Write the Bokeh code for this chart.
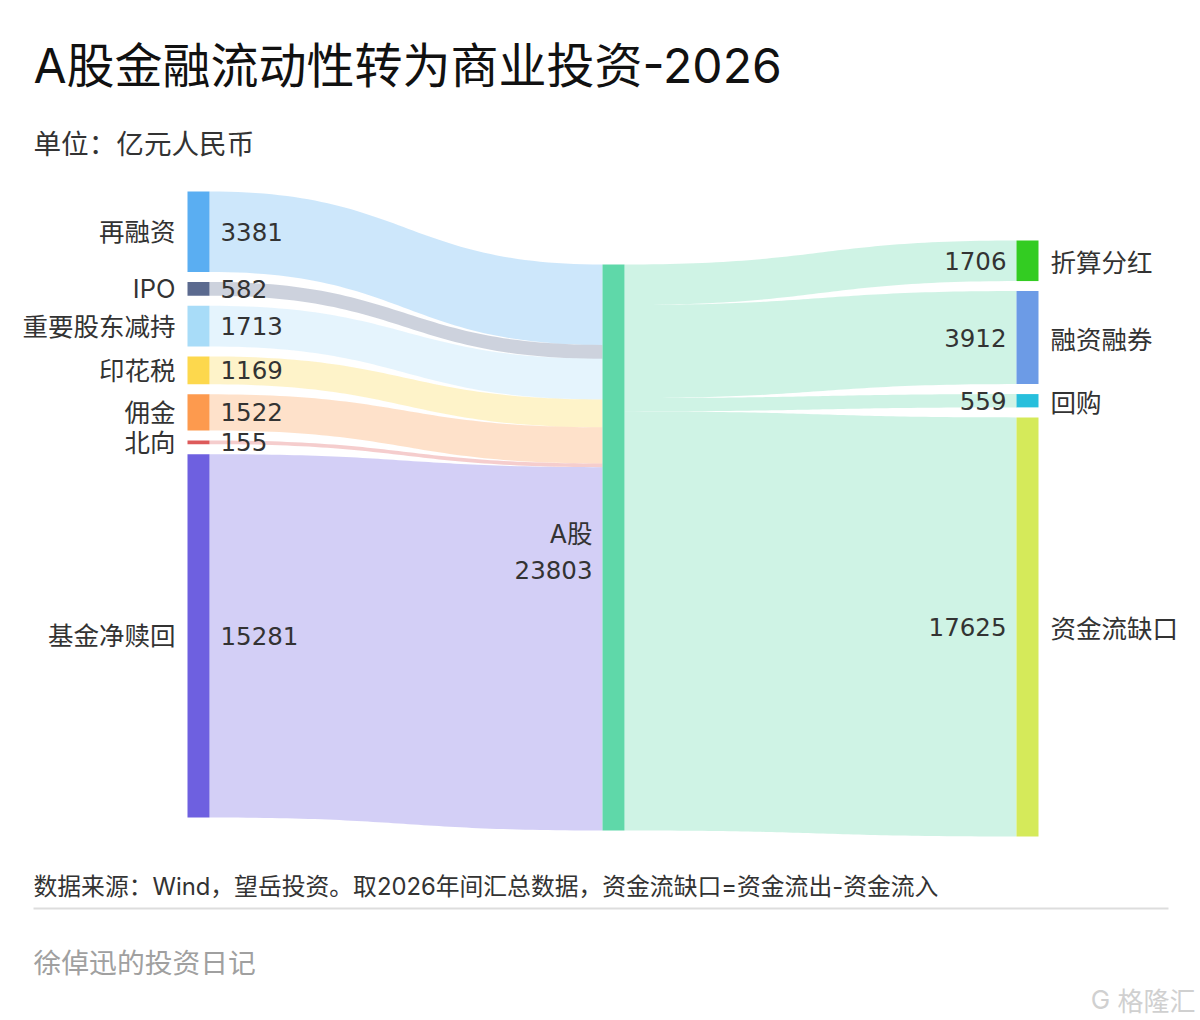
import numpy as np
from bokeh.plotting import figure
from bokeh.models import Range1d, ColumnDataSource
from bokeh.core.properties import value
from bokeh.embed import file_html
from bokeh.resources import INLINE

# ---------------- data ----------------
sources = ["再融资", "IPO", "重要股东减持", "印花税", "佣金", "北向", "基金净赎回"]
source_values = [3381, 582, 1713, 1169, 1522, 155, 15281]
source_colors = ["#5aaef2", "#5b6a8f", "#a8dcf8", "#fdd84d", "#fd9a4e", "#dd5a5a", "#6e60e0"]

center_name = "A股"
center_value = 23803
center_color = "#5fd8a9"

targets = ["折算分红", "融资融券", "回购", "资金流缺口"]
target_values = [1706, 3912, 559, 17625]
target_colors = ["#33cc22", "#6c9be6", "#27bfdc", "#d5ea5a"]

title_text = "A股金融流动性转为商业投资-2026"
subtitle_text = "单位：亿元人民币"
footer_text = "数据来源：Wind，望岳投资。取2026年间汇总数据，资金流缺口=资金流出-资金流入"
author_text = "徐倬迅的投资日记"
watermark_text = "格隆汇"

# ---------------- layout ----------------
FONT = value("Noto Sans CJK SC")
FONT_MIX = value("Inter, 'Noto Sans CJK SC'")
FONT_NUM = value("DejaVu Sans")
W, H = 1200, 1020
NODE_W = 22
X_LEFT, X_CENTER, X_RIGHT = 187, 602, 1016
TOP_LEFT, TOP_CENTER, TOP_RIGHT = 191, 264, 240
GAP = 10
CENTER_H = 566
k = CENTER_H / center_value


def stack(vals, top):
    tops, bots = [], []
    y = top
    for v in vals:
        tops.append(y)
        y += v * k
        bots.append(y)
        y += GAP
    return tops, bots


l_top, l_bot = stack(source_values, TOP_LEFT)
r_top, r_bot = stack(target_values, TOP_RIGHT)
c_top, c_bot = TOP_CENTER, TOP_CENTER + center_value * k

p = figure(width=W, height=H, x_range=Range1d(0, W), y_range=Range1d(H, 0),
           output_backend="svg", toolbar_location=None, min_border=0,
           outline_line_color=None, background_fill_color="white",
           border_fill_color="white")
p.axis.visible = False
p.grid.visible = False


def bezier(x0, y0, x1, y1, n=60):
    t = np.linspace(0, 1, n)
    xm = (x0 + x1) / 2
    bx = (1 - t) ** 3 * x0 + 3 * (1 - t) ** 2 * t * xm + 3 * (1 - t) * t ** 2 * xm + t ** 3 * x1
    by = (1 - t) ** 3 * y0 + 3 * (1 - t) ** 2 * t * y0 + 3 * (1 - t) * t ** 2 * y1 + t ** 3 * y1
    return bx, by


def link(xs, s0, s1, xt, t0, t1):
    tx, ty = bezier(xs, s0, xt, t0)
    bx, by = bezier(xs, s1, xt, t1)
    return list(np.concatenate([tx, bx[::-1]])), list(np.concatenate([ty, by[::-1]]))


# links left -> center
lx, ly, lc = [], [], []
cy = c_top
for v, t0, b0, col in zip(source_values, l_top, l_bot, source_colors):
    h = v * k
    xs_, ys_ = link(X_LEFT + NODE_W, t0, b0, X_CENTER, cy, cy + h)
    lx.append(xs_); ly.append(ys_); lc.append(col)
    cy += h
p.patches(xs=lx, ys=ly, fill_color=lc, fill_alpha=0.3, line_color=None)

# links center -> right
rx, ry = [], []
cy = c_top
for v, t0, b0 in zip(target_values, r_top, r_bot):
    h = v * k
    xs_, ys_ = link(X_CENTER + NODE_W, cy, cy + h, X_RIGHT, t0, t0 + h)
    rx.append(xs_); ry.append(ys_)
    cy += h
p.patches(xs=rx, ys=ry, fill_color=center_color, fill_alpha=0.3, line_color=None)

# nodes
p.quad(left=[X_LEFT] * len(sources), right=[X_LEFT + NODE_W] * len(sources),
       top=l_top, bottom=l_bot, fill_color=source_colors, line_color=None)
p.quad(left=[X_CENTER], right=[X_CENTER + NODE_W], top=[c_top], bottom=[c_bot],
       fill_color=center_color, line_color=None)
p.quad(left=[X_RIGHT] * len(targets), right=[X_RIGHT + NODE_W] * len(targets),
       top=r_top, bottom=r_bot, fill_color=target_colors, line_color=None)

TXT = "#333333"
LBL = "25.5px"
NUM = "24.5px"
l_mid = [(a + b) / 2 for a, b in zip(l_top, l_bot)]
r_mid = [(a + b) / 2 for a, b in zip(r_top, r_bot)]

src_l = ColumnDataSource(dict(y=l_mid, name=sources, val=[str(v) for v in source_values]))
p.text(x=X_LEFT - 12, y="y", text="name", source=src_l, text_font=FONT_MIX, text_font_size=LBL,
       text_align="right", text_baseline="middle", text_color=TXT)
p.text(x=X_LEFT + NODE_W + 11, y="y", text="val", source=src_l, text_font=FONT_NUM, text_font_size=NUM,
       text_align="left", text_baseline="middle", text_color=TXT)

src_r = ColumnDataSource(dict(y=r_mid, name=targets, val=[str(v) for v in target_values]))
p.text(x=X_RIGHT - 10, y="y", text="val", source=src_r, text_font=FONT_NUM, text_font_size=NUM,
       text_align="right", text_baseline="middle", text_color=TXT)
p.text(x=X_RIGHT + NODE_W + 12, y="y", text="name", source=src_r, text_font=FONT, text_font_size=LBL,
       text_align="left", text_baseline="middle", text_color=TXT)

c_mid = (c_top + c_bot) / 2
p.text(x=[X_CENTER - 10], y=[c_mid - 14], text=[center_name], text_font=FONT_MIX,
       text_font_size=LBL, text_align="right", text_baseline="middle", text_color=TXT)
p.text(x=[X_CENTER - 10], y=[c_mid + 22], text=[str(center_value)], text_font=FONT_NUM,
       text_font_size=NUM, text_align="right", text_baseline="middle", text_color=TXT)

# titles and footer
p.text(x=[33], y=[65], text=[title_text], text_font=FONT_MIX, text_font_size="48px",
       text_align="left", text_baseline="middle", text_color="#111111")
p.text(x=[33], y=[141], text=[subtitle_text], text_font=FONT, text_font_size="27.6px",
       text_align="left", text_baseline="middle", text_color=TXT)
p.text(x=[33], y=[886], text=[footer_text], text_font=FONT_MIX, text_font_size="23.8px",
       text_align="left", text_baseline="middle", text_color=TXT)
p.segment(x0=[33], y0=[908], x1=[1168], y1=[908], line_color="#dddddd", line_width=2)
p.text(x=[33], y=[960], text=[author_text], text_font=FONT, text_font_size="27.8px",
       text_align="left", text_baseline="middle", text_color="#a0a0a0")
p.text(x=[1195], y=[999], text=[watermark_text], text_font=FONT, text_font_size="26px",
       text_align="right", text_baseline="middle", text_color="#d0d0d0")
p.text(x=[1100], y=[999], text=["G"], text_font=FONT_MIX, text_font_size="26px",
       text_align="center", text_baseline="middle", text_color="#d0d0d0")

open("out.html", "w").write(file_html(p, INLINE))
